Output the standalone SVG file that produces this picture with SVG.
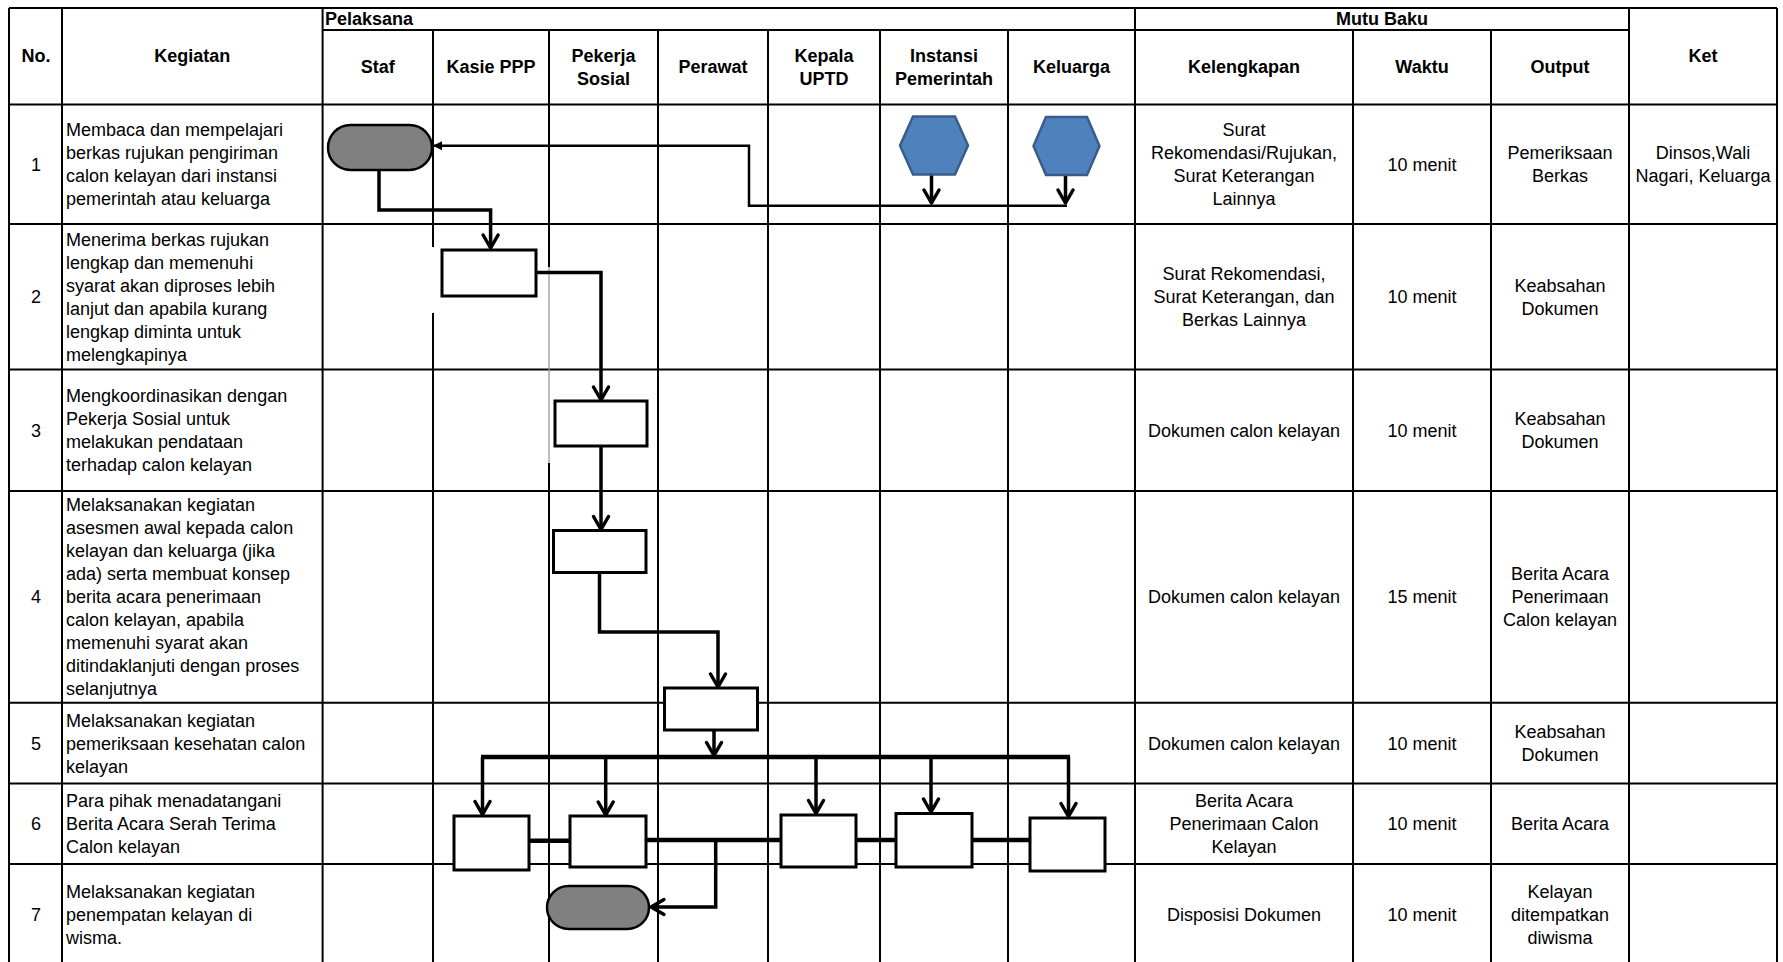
<svg xmlns="http://www.w3.org/2000/svg" width="1783" height="962" viewBox="0 0 1783 962">
<style>
.g{stroke:#000;stroke-width:2;fill:none}
.gg{stroke:#9a9a9a;stroke-width:1.3;fill:none}
.t{font-family:"Liberation Sans",Arial,sans-serif;font-size:18px;fill:#000}
.b{font-weight:bold}
.c{text-anchor:middle}
.box{fill:#fff;stroke:#000;stroke-width:3}
.term{fill:#808080;stroke:#000;stroke-width:2.5}
.hex{fill:#4F81BD;stroke:#385D8A;stroke-width:2.5}
.ln{fill:none;stroke:#000;stroke-width:3.5;stroke-linejoin:miter}
.thin{fill:none;stroke:#000;stroke-width:2.5}
.bus{fill:none;stroke:#000;stroke-width:4.5}
</style>
<defs>
<marker id="v" markerUnits="userSpaceOnUse" markerWidth="30" markerHeight="30" refX="0" refY="0" orient="auto" overflow="visible">
<path d="M-13,-7.5 L0,0 L-13,7.5" fill="none" stroke="#000" stroke-width="3.5" stroke-linejoin="round" stroke-linecap="round"/>
</marker>
<marker id="s" markerUnits="userSpaceOnUse" markerWidth="20" markerHeight="20" refX="0" refY="0" orient="auto" overflow="visible">
<path d="M-9,-4.5 L0,0 L-9,4.5 Z" fill="#000"/>
</marker>
</defs>
<rect x="0" y="0" width="1783" height="962" fill="#fff"/>

<g id="grid">
<path class="g" d="M9,8H1777M322.6,30H1629M9,104.6H1777M9,224H1777M9,369.6H1777M9,491H1777M9,702.7H1777M9,783.5H1777M9,864H1777"/>
<path class="g" d="M9,8V962M62,8V962M322.6,8V962M433,30V247M433,313V962M549,30V267M549,463V962M658,30V962M768,30V962M880,30V962M1008,30V962M1135,8V962M1353,30V962M1491,30V962M1629,8V962M1777,8V962"/>
<path class="gg" d="M549,267V463"/>
</g>

<g id="header">
<text class="t b c" x="36" y="61.5">No.</text>
<text class="t b c" x="192.3" y="61.5">Kegiatan</text>
<text class="t b" x="325" y="24.5">Pelaksana</text>
<text class="t b c" x="1382" y="24.5">Mutu Baku</text>
<text class="t b c" x="1703" y="61.5">Ket</text>
<text class="t b c" x="377.8" y="72.8">Staf</text>
<text class="t b c" x="491" y="72.8">Kasie PPP</text>
<text class="t b c" x="603.5" y="61.5">Pekerja<tspan x="603.5" dy="23">Sosial</tspan></text>
<text class="t b c" x="713" y="72.8">Perawat</text>
<text class="t b c" x="824" y="61.5">Kepala<tspan x="824" dy="23">UPTD</tspan></text>
<text class="t b c" x="944" y="61.5">Instansi<tspan x="944" dy="23">Pemerintah</tspan></text>
<text class="t b c" x="1071.5" y="72.8">Keluarga</text>
<text class="t b c" x="1244" y="72.8">Kelengkapan</text>
<text class="t b c" x="1422" y="72.8">Waktu</text>
<text class="t b c" x="1560" y="72.8">Output</text>
</g>

<g id="rows">
<text class="t c" x="36" y="170.8">1</text>
<text class="t" x="66" y="136.3">Membaca dan mempelajari<tspan x="66" dy="23">berkas rujukan pengiriman</tspan><tspan x="66" dy="23">calon kelayan dari instansi</tspan><tspan x="66" dy="23">pemerintah atau keluarga</tspan></text>
<text class="t c" x="1244" y="136.3">Surat<tspan x="1244" dy="23">Rekomendasi/Rujukan,</tspan><tspan x="1244" dy="23">Surat Keterangan</tspan><tspan x="1244" dy="23">Lainnya</tspan></text>
<text class="t c" x="1422" y="170.8">10 menit</text>
<text class="t c" x="1560" y="159.3">Pemeriksaan<tspan x="1560" dy="23">Berkas</tspan></text>
<text class="t c" x="1703" y="159.3">Dinsos,Wali<tspan x="1703" dy="23">Nagari, Keluarga</tspan></text>

<text class="t c" x="36" y="303.3">2</text>
<text class="t" x="66" y="245.8">Menerima berkas rujukan<tspan x="66" dy="23">lengkap dan memenuhi</tspan><tspan x="66" dy="23">syarat akan diproses lebih</tspan><tspan x="66" dy="23">lanjut dan apabila kurang</tspan><tspan x="66" dy="23">lengkap diminta untuk</tspan><tspan x="66" dy="23">melengkapinya</tspan></text>
<text class="t c" x="1244" y="280.3">Surat Rekomendasi,<tspan x="1244" dy="23">Surat Keterangan, dan</tspan><tspan x="1244" dy="23">Berkas Lainnya</tspan></text>
<text class="t c" x="1422" y="303.3">10 menit</text>
<text class="t c" x="1560" y="291.8">Keabsahan<tspan x="1560" dy="23">Dokumen</tspan></text>

<text class="t c" x="36" y="436.8">3</text>
<text class="t" x="66" y="402.3">Mengkoordinasikan dengan<tspan x="66" dy="23">Pekerja Sosial untuk</tspan><tspan x="66" dy="23">melakukan pendataan</tspan><tspan x="66" dy="23">terhadap calon kelayan</tspan></text>
<text class="t c" x="1244" y="436.8">Dokumen calon kelayan</text>
<text class="t c" x="1422" y="436.8">10 menit</text>
<text class="t c" x="1560" y="425.3">Keabsahan<tspan x="1560" dy="23">Dokumen</tspan></text>

<text class="t c" x="36" y="603.4">4</text>
<text class="t" x="66" y="511.4">Melaksanakan kegiatan<tspan x="66" dy="23">asesmen awal kepada calon</tspan><tspan x="66" dy="23">kelayan dan keluarga (jika</tspan><tspan x="66" dy="23">ada) serta membuat konsep</tspan><tspan x="66" dy="23">berita acara penerimaan</tspan><tspan x="66" dy="23">calon kelayan, apabila</tspan><tspan x="66" dy="23">memenuhi syarat akan</tspan><tspan x="66" dy="23">ditindaklanjuti dengan proses</tspan><tspan x="66" dy="23">selanjutnya</tspan></text>
<text class="t c" x="1244" y="603.4">Dokumen calon kelayan</text>
<text class="t c" x="1422" y="603.4">15 menit</text>
<text class="t c" x="1560" y="580.4">Berita Acara<tspan x="1560" dy="23">Penerimaan</tspan><tspan x="1560" dy="23">Calon kelayan</tspan></text>

<text class="t c" x="36" y="749.6">5</text>
<text class="t" x="66" y="726.6">Melaksanakan kegiatan<tspan x="66" dy="23">pemeriksaan kesehatan calon</tspan><tspan x="66" dy="23">kelayan</tspan></text>
<text class="t c" x="1244" y="749.6">Dokumen calon kelayan</text>
<text class="t c" x="1422" y="749.6">10 menit</text>
<text class="t c" x="1560" y="738.1">Keabsahan<tspan x="1560" dy="23">Dokumen</tspan></text>

<text class="t c" x="36" y="830.2">6</text>
<text class="t" x="66" y="807.2">Para pihak menadatangani<tspan x="66" dy="23">Berita Acara Serah Terima</tspan><tspan x="66" dy="23">Calon kelayan</tspan></text>
<text class="t c" x="1244" y="807.2">Berita Acara<tspan x="1244" dy="23">Penerimaan Calon</tspan><tspan x="1244" dy="23">Kelayan</tspan></text>
<text class="t c" x="1422" y="830.2">10 menit</text>
<text class="t c" x="1560" y="830.2">Berita Acara</text>

<text class="t c" x="36" y="920.5">7</text>
<text class="t" x="66" y="897.5">Melaksanakan kegiatan<tspan x="66" dy="23">penempatan kelayan di</tspan><tspan x="66" dy="23">wisma.</tspan></text>
<text class="t c" x="1244" y="920.5">Disposisi Dokumen</text>
<text class="t c" x="1422" y="920.5">10 menit</text>
<text class="t c" x="1560" y="897.5">Kelayan<tspan x="1560" dy="23">ditempatkan</tspan><tspan x="1560" dy="23">diwisma</tspan></text>
</g>

<g id="connectors">
<path class="thin" d="M1067,205.7H749V145.7H433" marker-end="url(#s)"/>
<path class="ln" d="M931.5,175V203" marker-end="url(#v)"/>
<path class="ln" d="M1065.5,175V203" marker-end="url(#v)"/>
<path class="ln" d="M379,170.5V210H490.6V248" marker-end="url(#v)"/>
<path class="ln" d="M536,272.5H601V400" marker-end="url(#v)"/>
<path class="ln" d="M601,446.5V529.5" marker-end="url(#v)"/>
<path class="ln" d="M599.5,572.5V632H718V687" marker-end="url(#v)"/>
<path class="ln" d="M714,730V755.5" marker-end="url(#v)"/>
<path class="bus" d="M481,757H1070"/>
<path class="ln" d="M482.5,757V814.5" marker-end="url(#v)"/>
<path class="ln" d="M605.7,755V815" marker-end="url(#v)"/>
<path class="ln" d="M816,757V813.5" marker-end="url(#v)"/>
<path class="ln" d="M931,757V812" marker-end="url(#v)"/>
<path class="ln" d="M1068.5,757V816.5" marker-end="url(#v)"/>
<path class="bus" d="M529,840.7H570M646,840H781M856,840H896M972,840H1030"/>
<path class="ln" d="M715.7,840V907H651" marker-end="url(#v)"/>
</g>

<g id="node-start"><rect class="term" x="328" y="125" width="104" height="45" rx="22.5"/></g>
<g id="node-instansi"><polygon class="hex" points="900,145.5 913,116.5 955,116.5 968,145.5 955,174.5 913,174.5"/></g>
<g id="node-keluarga"><polygon class="hex" points="1033.5,146 1046,117 1087,117 1099.5,146 1087,175 1046,175"/></g>
<g id="node-kasie"><rect class="box" x="442" y="250" width="94" height="46"/></g>
<g id="node-peksos1"><rect class="box" x="555" y="401" width="92" height="45"/></g>
<g id="node-peksos2"><rect class="box" x="553.5" y="530.5" width="92.5" height="42"/></g>
<g id="node-perawat"><rect class="box" x="664.5" y="688" width="93" height="42"/></g>
<g id="node-ttd-staf"><rect class="box" x="454" y="816" width="75" height="54"/></g>
<g id="node-ttd-kasie"><rect class="box" x="570" y="816" width="76" height="51"/></g>
<g id="node-ttd-kepala"><rect class="box" x="781" y="815" width="75" height="52"/></g>
<g id="node-ttd-instansi"><rect class="box" x="896" y="813.5" width="76" height="53.5"/></g>
<g id="node-ttd-keluarga"><rect class="box" x="1030" y="818" width="75" height="53"/></g>
<g id="node-end"><rect class="term" x="547" y="886" width="102" height="43" rx="21.5"/></g>
</svg>
